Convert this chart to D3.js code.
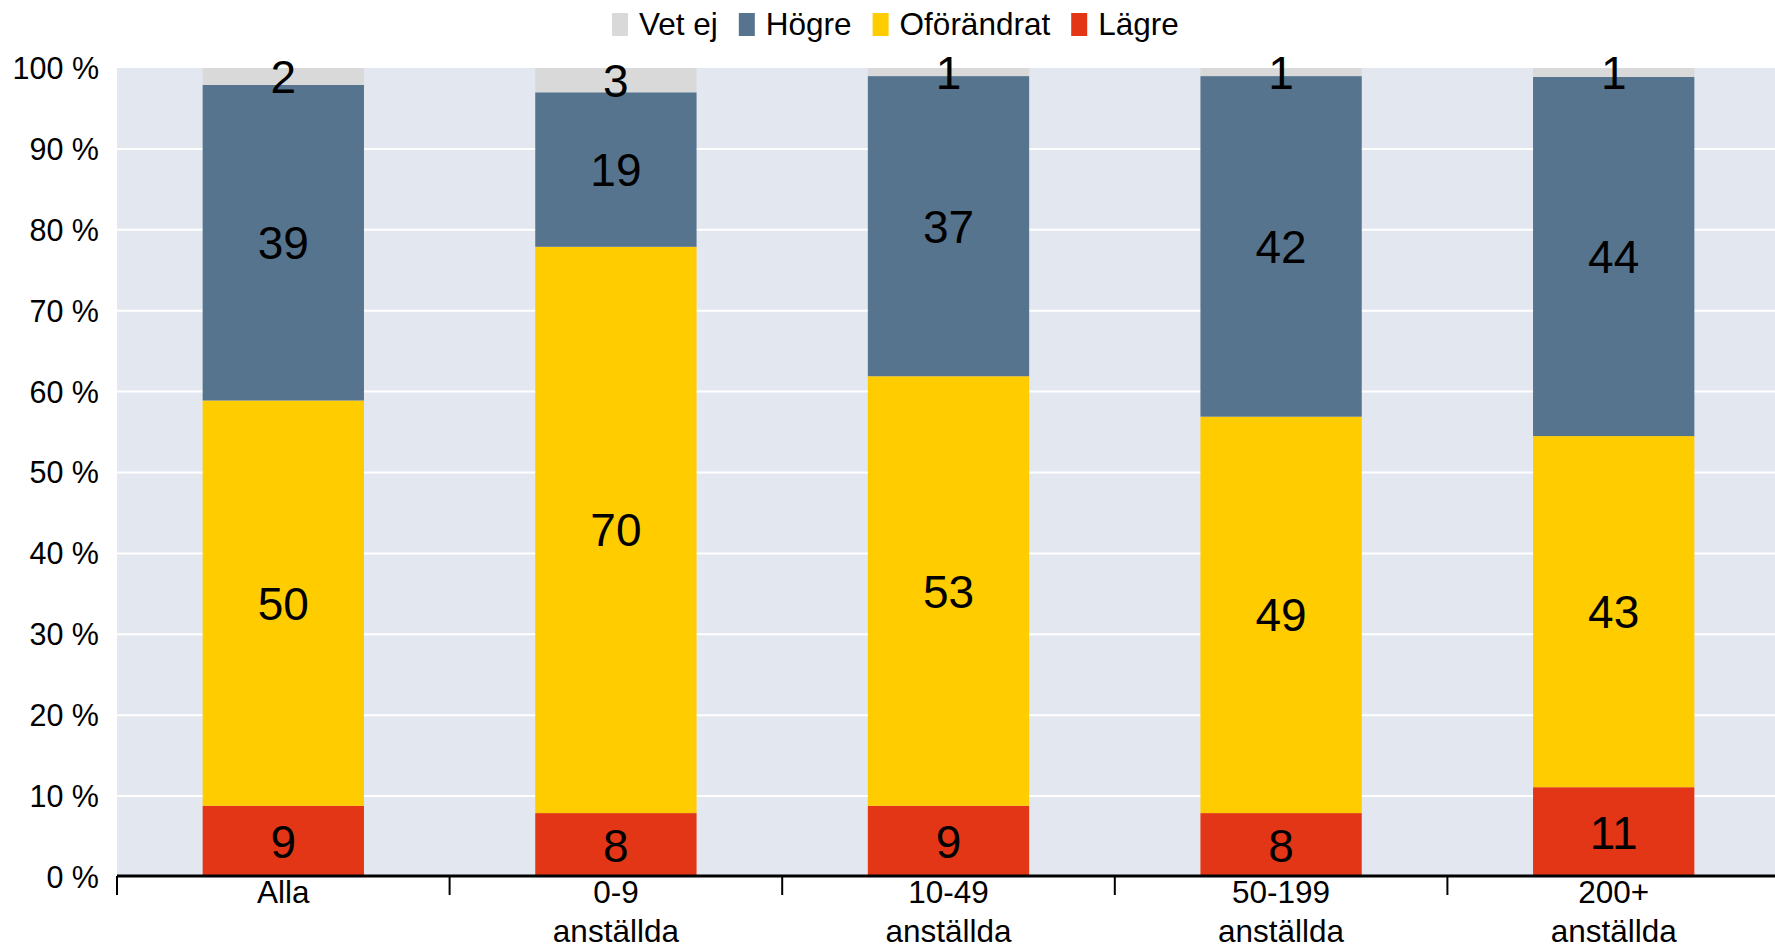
<!DOCTYPE html>
<html>
<head>
<meta charset="utf-8">
<script src="https://cdn.jsdelivr.net/npm/d3@7"></script>
<style>
  html, body { margin: 0; padding: 0; background: #ffffff; }
  svg { display: block; font-family: "Liberation Sans", Arial, sans-serif; }
</style>
</head>
<body>
<svg id="chart" width="1775" height="945"></svg>
<script>
// ---- data ----
const categories = [["Alla"], ["0-9", "anställda"], ["10-49", "anställda"], ["50-199", "anställda"], ["200+", "anställda"]];
const seriesNames = ["Lägre", "Oförändrat", "Högre", "Vet ej"];
const lagre      = [8.8, 7.9, 8.8, 7.9, 11.1];
const oforandrat = [50.1, 70.0, 53.1, 49.0, 43.4];
const hogre      = [39.0, 19.1, 37.1, 42.1, 44.4];
const vetej      = [2.1, 3.0, 1.0, 1.0, 1.1];
const yTicks = [0, 10, 20, 30, 40, 50, 60, 70, 80, 90, 100];
const legendOrder = ["Vet ej", "Högre", "Oförändrat", "Lägre"];

const colors = { "Lägre": "#e33617", "Oförändrat": "#ffcc00", "Högre": "#56748d", "Vet ej": "#d9d9d9" };

// ---- layout ----
const W = 1775, H = 945;
const plotLeft = 117, plotTop = 68, plotBottom = 877;
const bandW = 332.6;
const svg = d3.select("#chart");

const rows = categories.map((c, i) => ({
  key: i,
  "Lägre": lagre[i], "Oförändrat": oforandrat[i], "Högre": hogre[i], "Vet ej": vetej[i]
}));

const x = d3.scaleBand().domain(d3.range(categories.length))
  .range([plotLeft, plotLeft + bandW * categories.length])
  .paddingInner(0.515).paddingOuter(0.2575);
const y = d3.scaleLinear().domain([0, 100]).range([plotBottom, plotTop]);

// background
svg.append("rect").attr("x", plotLeft).attr("y", y(100))
  .attr("width", W - plotLeft).attr("height", y(0) - y(100))
  .attr("fill", "#e3e7ef");

// gridlines
svg.append("g").selectAll("line").data(yTicks.filter(t => t > 0 && t < 100)).join("line")
  .attr("x1", plotLeft).attr("x2", W)
  .attr("y1", d => y(d)).attr("y2", d => y(d))
  .attr("stroke", "#ffffff").attr("stroke-width", 2);

// y labels
svg.append("g").selectAll("text").data(yTicks).join("text")
  .attr("x", 99).attr("y", d => y(d)).attr("dy", "0.36em")
  .attr("text-anchor", "end").attr("font-size", 30.5).attr("fill", "#000")
  .text(d => d + " %");

// stacked bars
const stack = d3.stack().keys(seriesNames)(rows);
const layers = svg.append("g").selectAll("g").data(stack).join("g")
  .attr("fill", d => colors[d.key]);
layers.selectAll("rect").data(d => d).join("rect")
  .attr("x", d => x(d.data.key)).attr("width", x.bandwidth())
  .attr("y", d => y(d[1])).attr("height", d => y(d[0]) - y(d[1]));

// value labels
const labels = svg.append("g");
stack.forEach(layer => {
  labels.selectAll(null).data(layer).join("text")
    .attr("x", d => x(d.data.key) + x.bandwidth() / 2)
    .attr("y", d => (y(d[0]) + y(d[1])) / 2)
    .attr("dy", "0.36em")
    .attr("text-anchor", "middle").attr("font-size", 46).attr("fill", "#000")
    .text(d => Math.round(d[1] - d[0]));
});

// x axis line and ticks
svg.append("line").attr("x1", plotLeft).attr("x2", W)
  .attr("y1", plotBottom - 1).attr("y2", plotBottom - 1)
  .attr("stroke", "#000").attr("stroke-width", 3);
svg.append("g").selectAll("line").data(d3.range(categories.length)).join("line")
  .attr("x1", d => plotLeft + d * bandW).attr("x2", d => plotLeft + d * bandW)
  .attr("y1", plotBottom - 1).attr("y2", plotBottom + 18)
  .attr("stroke", "#000").attr("stroke-width", 2);

// category labels
const catG = svg.append("g").selectAll("text").data(categories).join("text")
  .attr("text-anchor", "middle").attr("font-size", 31.5).attr("fill", "#000");
catG.each(function(lines, i) {
  const t = d3.select(this);
  lines.forEach((ln, j) => {
    t.append("tspan").attr("x", x(i) + x.bandwidth() / 2).attr("y", 903 + j * 38.5).text(ln);
  });
});

// legend
const leg = svg.append("g");
let lx = 612;
legendOrder.forEach(name => {
  leg.append("rect").attr("x", lx).attr("y", 13).attr("width", 16).attr("height", 23).attr("fill", colors[name]);
  const t = leg.append("text").attr("x", lx + 27).attr("y", 35)
    .attr("font-size", 31.5).attr("fill", "#000").text(name);
  lx += 27 + t.node().getComputedTextLength() + 21;
});
</script>
</body>
</html>
